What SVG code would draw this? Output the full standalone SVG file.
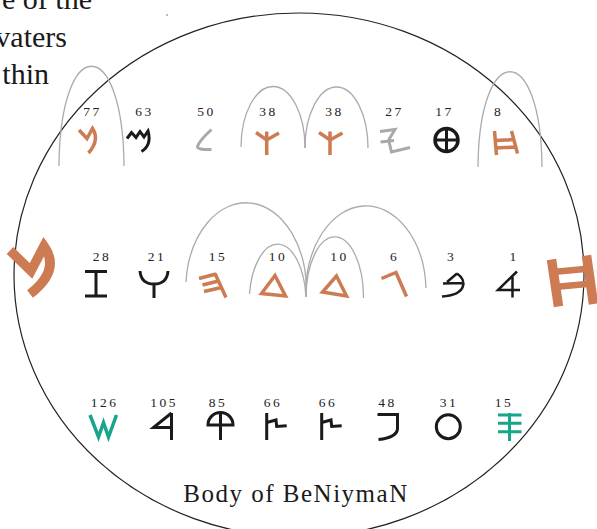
<svg xmlns="http://www.w3.org/2000/svg" width="597" height="529" viewBox="0 0 597 529">
<style>
text{font-family:"Liberation Serif","Times New Roman",serif}
.num{font-size:13.5px;letter-spacing:2.5px;fill:#222;text-anchor:middle}
.big{font-size:30px;fill:#1a1a1a;text-anchor:end}
.lbl{font-size:25px;letter-spacing:1.5px;fill:#1a1a1a;text-anchor:middle}
.o,.k,.g,.t{fill:none;stroke-linejoin:miter;stroke-linecap:butt}
.o{stroke:#cd7b52;stroke-width:3.5}
.k{stroke:#1a1a1a;stroke-width:3}
.g{stroke:#a9a9a9;stroke-width:3}
.t{stroke:#17a58c;stroke-width:3.5}
.arc{fill:none;stroke:#ababab;stroke-width:1.3}
.ell{fill:none;stroke:#222;stroke-width:1.2}
</style>
<text class="big" x="92" y="9">e of the</text>
<text class="big" x="67" y="47">vaters</text>
<text class="big" x="49" y="84">thin</text>
<circle cx="167" cy="15" r="0.8" fill="#666"/>
<ellipse class="ell" cx="299" cy="275" rx="285" ry="262"/>
<g id="connectors">
<path class="arc" d="M59,166 C60,33 123,33 124,166"/>
<path class="arc" d="M241,147 A32,61 0 0 1 305,148"/>
<path class="arc" d="M305,148 A31.5,61 0 0 1 368,148"/>
<path class="arc" d="M478,167 C479,40 541,40 542,167"/>
<path class="arc" d="M186,282 A60,86 0 0 1 306,296"/>
<path class="arc" d="M306,296 A60,86 0 0 1 426,288"/>
<path class="arc" d="M249.5,294 A28.5,59 0 0 1 306,297"/>
<path class="arc" d="M306,297 A28.5,60 0 0 1 363.5,298"/>
</g>
<g id="n77"><text class="num" x="92.5" y="116">77</text><path class="o" d="M79,130 L87,138.5 L92.5,128.5 Q100,140 88.5,153"/></g>
<g id="n63"><text class="num" x="144.5" y="116">63</text><path class="k" d="M127,138.5 L131.5,132.5 L136,137.5 L140,131.5 L144,137 L148,131 Q152,145 141.5,151.5"/></g>
<g id="n50"><text class="num" x="206.5" y="116">50</text><path class="g" d="M211.5,129.5 Q199,141 197.5,146.5 Q197,150 211.5,149.5"/></g>
<g id="n38a"><text class="num" x="268.5" y="116">38</text><path class="o" d="M266.7,131.5 V155 M256,132.5 L266.7,140 L279,133"/></g>
<g id="n38b"><text class="num" x="334.5" y="116">38</text><path class="o" d="M330,131.5 V155 M319,132.5 L330,140 L342.5,133"/></g>
<g id="n27"><text class="num" x="394.5" y="116">27</text><path class="g" d="M380,131.5 L395,129.5 L388,141 M380.5,142 L394,140.5 M389,141.5 L391.5,152 L410,147.5"/></g>
<g id="n17"><text class="num" x="444.5" y="116">17</text><circle class="k" style="stroke-width:3.5" cx="446.5" cy="140" r="11.5"/><path class="k" d="M435,140 H458 M446.5,128.5 V151.5"/></g>
<g id="n8"><text class="num" x="498.5" y="116">8</text><path class="o" d="M494.5,131 L496.5,155 M511.5,131 L517.5,153.5 M495,140.5 L513.5,139.5 M495.5,148 L515.5,147"/></g>
<g id="bigM"><path class="o" style="stroke-width:9.5" d="M10,250.5 L31,271 L44,246 Q61,270 30,294"/></g>
<g id="n28"><text class="num" x="102" y="261">28</text><path class="k" d="M85,271.5 H107 M96,271.5 V296 M85,296 H107"/></g>
<g id="n21"><text class="num" x="157" y="261">21</text><path class="k" d="M140,271 Q141,284 154,284 Q167,284 168,271 M154,284 V298"/></g>
<g id="n15a"><text class="num" x="218" y="261">15</text><path class="o" d="M199,278.5 L216,274 M202.5,285 L218.5,281 M204,291.5 L221.5,287.5 M215,273.5 L226,297.5"/></g>
<g id="n10a"><text class="num" x="278" y="261">10</text><polygon class="o" points="275,275.5 261.5,293.5 285.5,296"/></g>
<g id="n10b"><text class="num" x="339.5" y="261">10</text><polygon class="o" points="336.5,276 322.5,292 346.5,296"/></g>
<g id="n6"><text class="num" x="394.5" y="261">6</text><path class="o" d="M381.5,278.5 L396,272.5 L406.5,296.5"/></g>
<g id="n3"><text class="num" x="451.5" y="261">3</text><path class="k" style="stroke-width:2.5" d="M457,273.5 L447,282 M443,283.5 L462,283 M457,273.5 C468,281 466,295 442,296.5"/></g>
<g id="n1"><text class="num" x="514" y="261">1</text><path class="k" style="stroke-width:2.5" d="M517,271.5 L498,290 H520 M512.5,277 V297.5"/></g>
<g id="bigH"><path class="o" style="stroke-width:9.5" d="M551.5,259.5 L558.5,306.5 M586.5,255.5 L593.5,304"/><path class="o" style="stroke-width:6.5" d="M553,272 L590,268.5 M555,287 L592,283.5"/></g>
<g id="n126"><text class="num" x="104.5" y="407">126</text><path class="t" d="M90,415 L98.5,437 L103.5,422.5 L108.5,437 L116.5,415"/></g>
<g id="n105"><text class="num" x="164" y="407">105</text><path class="k" d="M171.5,413 V440 M171.5,413 L153.5,427.5 H171.5"/></g>
<g id="n85"><text class="num" x="218" y="407">85</text><path class="k" d="M208,425 A12.5,12.5 0 0 1 233,425 Z M220.5,412.5 V440"/></g>
<g id="n66a"><text class="num" x="273" y="407">66</text><path class="k" d="M266.7,413 V440 M266.7,422.5 L276,420 L276.7,426.5 L286.7,425.7"/></g>
<g id="n66b"><text class="num" x="328" y="407">66</text><path class="k" d="M321.7,413 V440 M321.7,422.5 L331,420 L331.7,426.5 L341.7,425.7"/></g>
<g id="n48"><text class="num" x="387.5" y="407">48</text><path class="k" d="M377.5,414.5 H397.5 V429 Q396.5,437.5 378.5,439.5"/></g>
<g id="n31"><text class="num" x="449" y="407">31</text><circle class="k" cx="448.3" cy="426.7" r="12"/></g>
<g id="n15b"><text class="num" x="504" y="407">15</text><path class="t" style="stroke-width:3" d="M509.5,413 V441 M498,415 H521.5 M498,423.3 H521.5 M498,431.7 H521.5"/></g>
<text class="lbl" x="296" y="502">Body of BeNiymaN</text>
</svg>
